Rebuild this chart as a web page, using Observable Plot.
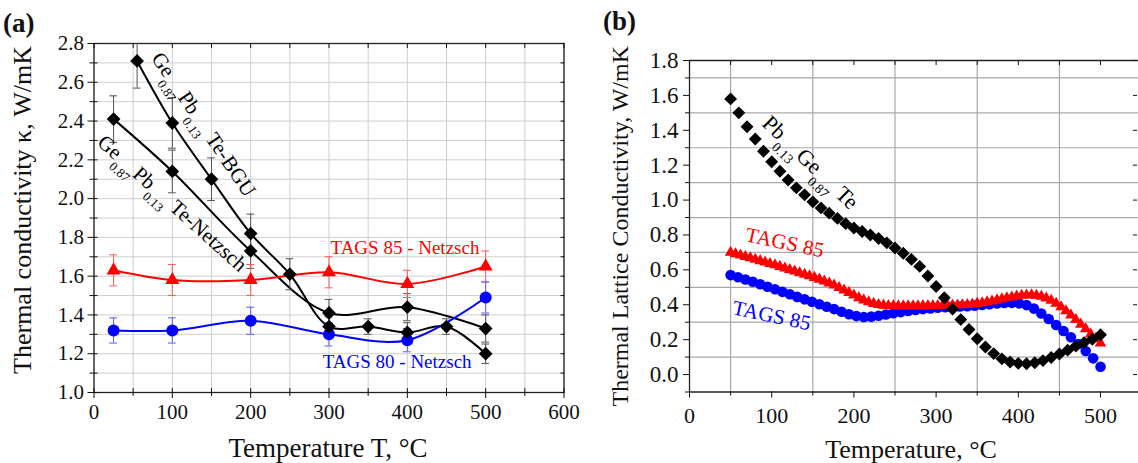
<!DOCTYPE html>
<html><head><meta charset="utf-8">
<script src="https://cdn.jsdelivr.net/npm/d3@7"></script>
<script src="https://cdn.jsdelivr.net/npm/@observablehq/plot@0.6"></script>
<style>
body{margin:0;background:#fff;}
#wrap{position:relative;width:1138px;height:463px;overflow:hidden;font-family:"Liberation Serif","Times New Roman",serif;background:#fff;}
.panel{position:absolute;top:0;}
.panel svg text{font-family:"Liberation Serif","Times New Roman",serif;}
.tag{position:absolute;font-weight:bold;font-size:27px;line-height:1;color:#111;}
</style></head><body>
<div id="wrap">
  <div id="pa" class="panel" style="left:0px"></div>
  <div id="pb" class="panel" style="left:580px"></div>
  <div class="tag" style="left:3px;top:10px">(a)</div>
  <div class="tag" style="left:603px;top:8px">(b)</div>
</div>
<script>
// ---------- Panel (a): thermal conductivity ----------
const tBGU = [55,100,150,200,250,300,350,400,450,500];
const kBGU = [2.71,2.39,2.10,1.82,1.61,1.34,1.34,1.31,1.34,1.20];
const eBGU = [0.14,0.13,0.11,0.10,0.08,0.05,0.04,0.05,0.04,0.05];
const tNetz = [25,100,200,300,400,500];
const kNetz = [2.41,2.14,1.73,1.41,1.44,1.33];
const eNetz = [0.12,0.11,0.09,0.07,0.07,0.07];
const tT85 = [25,100,200,300,400,500];
const kT85 = [1.63,1.58,1.58,1.62,1.56,1.65];
const eT85 = [0.08,0.08,0.08,0.08,0.07,0.08];
const tT80 = [25,100,200,300,400,500];
const kT80 = [1.32,1.32,1.37,1.30,1.27,1.49];
const eT80 = [0.065,0.065,0.07,0.06,0.06,0.08];

const xMajorA = [0,100,200,300,400,500,600];
const xMinorA = [50,150,250,350,450,550];
const yMajorA = [1.0,1.2,1.4,1.6,1.8,2.0,2.2,2.4,2.6,2.8];
const yMinorA = [1.1,1.3,1.5,1.7,1.9,2.1,2.3,2.5,2.7];

const labelsA = [
  {t:140, k:2.382, rot:56, s:"Ge_{0.87}Pb_{0.13} Te-BGU", c:"#000000", size:21},
  {t:100, k:1.975, rot:42, s:"Ge_{0.87}Pb_{0.13} Te-Netzsch", c:"#000000", size:21},
  {t:397, k:1.745, rot:0, s:"TAGS 85 - Netzsch", c:"#ff0000", size:19},
  {t:387, k:1.16, rot:0, s:"TAGS 80 - Netzsch", c:"#0000ff", size:19}
];

// ---------- Panel (b): lattice thermal conductivity ----------
const tPbGe = [50,60,70,80,90,100,110,120,130,140,150,160,170,180,190,200,210,220,230,240,250,260,270,280,290,300,310,320,330,340,350,360,370,380,390,400,410,420,430,440,450,460,470,480,490,500];
const kPbGe = [1.58,1.50,1.42,1.35,1.28,1.22,1.165,1.115,1.07,1.03,0.99,0.955,0.925,0.895,0.865,0.84,0.82,0.80,0.78,0.755,0.725,0.695,0.66,0.62,0.565,0.505,0.44,0.375,0.315,0.258,0.205,0.158,0.12,0.09,0.072,0.064,0.062,0.068,0.08,0.098,0.118,0.14,0.163,0.183,0.202,0.228];
const tRed85 = [50,56,62,68,74,80,86,92,98,104,110,116,122,128,134,140,146,152,158,164,170,176,182,188,194,200,206,212,218,224,230,236,242,248,254,260,266,272,278,284,290,296,302,308,314,320,326,332,338,344,350,356,362,368,374,380,386,392,398,404,410,416,422,428,434,440,446,452,458,464,470,476,482,488,494,500];
const kRed85 = [0.700,0.692,0.684,0.676,0.668,0.660,0.652,0.644,0.636,0.628,
  0.619,0.610,0.601,0.592,0.583,0.574,0.565,0.556,0.546,0.535,
  0.524,0.512,0.498,0.484,0.469,0.455,0.440,0.427,0.416,0.407,
  0.401,0.397,0.395,0.394,0.393,0.393,0.393,0.393,0.393,0.394,
  0.394,0.395,0.395,0.396,0.396,0.397,0.398,0.399,0.401,0.404,
  0.407,0.411,0.416,0.421,0.427,0.433,0.439,0.444,0.449,0.453,
  0.455,0.456,0.454,0.448,0.438,0.425,0.408,0.388,0.365,0.340,
  0.314,0.288,0.262,0.232,0.205,0.180];
const tBlue85 = [50,59,68,77,86,95,104,113,122,131,140,149,158,167,176,185,194,203,212,221,230,239,248,257,266,275,284,293,302,311,320,329,338,347,356,365,374,383,392,401,410,419,428,437,446,455,464,473,482,491,500];
const kBlue85 = [0.570,0.558,0.545,0.532,0.518,0.503,0.489,0.474,0.460,0.445,
  0.431,0.417,0.403,0.389,0.375,0.360,0.346,0.335,0.330,0.332,
  0.337,0.344,0.351,0.358,0.364,0.370,0.375,0.379,0.383,0.386,
  0.388,0.390,0.392,0.395,0.399,0.403,0.407,0.410,0.411,0.408,
  0.398,0.378,0.350,0.318,0.284,0.250,0.214,0.175,0.135,0.093,
  0.045];

const xMajorB = [0,100,200,300,400,500];
const xMinorB = [50,150,250,350,450];
const yMajorB = [0.0,0.2,0.4,0.6,0.8,1.0,1.2,1.4,1.6,1.8];
const yMinorB = [-0.1,0.1,0.3,0.5,0.7,0.9,1.1,1.3,1.5,1.7];

const labelsB = [
  {t:147, k:1.215, rot:44, s:"Pb_{0.13}Ge_{0.87} Te", c:"#000000", size:22},
  {t:116, k:0.756, rot:12, s:"TAGS 85", c:"#ff0000", size:21},
  {t:100, k:0.338, rot:12, s:"TAGS 85", c:"#0000ff", size:21}
];

const FONT = '"Liberation Serif","Times New Roman",serif';
const rows = (t, k, e) => t.map((x, i) => ({t: x, k: k[i], e: e ? e[i] : 0}));
const fmt1 = d3.format(".1f");
const blank = () => "";

function labelMarks(list) {
  return list.map(l => Plot.text([l], {x: "t", y: "k", text: "s", rotate: l.rot,
    fill: l.c, fontSize: l.size, fontFamily: FONT, textAnchor: "middle", lineAnchor: "middle"}));
}
function richify(svg) {
  d3.select(svg).selectAll("text").each(function() {
    const s = this.textContent;
    if (!s || s.indexOf("_{") < 0) return;
    let fs = parseFloat(this.getAttribute("font-size"));
    if (!fs) fs = parseFloat(this.parentNode.getAttribute("font-size"));
    if (!fs) fs = parseFloat(getComputedStyle(this).fontSize) || 20;
    const t = d3.select(this); t.text(null);
    const re = /_\{([^}]*)\}/g; let last = 0, m, shifted = false;
    const off = fs * 0.45;
    while ((m = re.exec(s))) {
      if (m.index > last) {
        const sp = t.append("tspan").text(s.slice(last, m.index));
        if (shifted) { sp.attr("dy", -off); shifted = false; }
      }
      t.append("tspan").attr("font-size", (fs * 0.62).toFixed(1)).attr("dy", shifted ? 0 : off).text(m[1]);
      shifted = true;
      last = re.lastIndex;
    }
    if (last < s.length) {
      const sp = t.append("tspan").text(s.slice(last));
      if (shifted) sp.attr("dy", -off);
    }
  });
}

// ---- build panel (a)
const seriesA = [
  {d: rows(tBGU, kBGU, eBGU), color: "#000000", err: "#555555", symbol: "diamond2", r: 6.2},
  {d: rows(tNetz, kNetz, eNetz), color: "#000000", err: "#555555", symbol: "diamond2", r: 6.2},
  {d: rows(tT85, kT85, eT85), color: "#ff0000", err: "#ff5a5a", symbol: "triangle", r: 5.2},
  {d: rows(tT80, kT80, eT80), color: "#0000ff", err: "#5a5aff", symbol: "circle", r: 6}
];
const capA = 5;
const marksA = [
  Plot.gridX([...xMajorA, ...xMinorA], {stroke: "#cfcfcf", strokeOpacity: 1, strokeWidth: 1}),
  Plot.gridY([...yMajorA, ...yMinorA], {stroke: "#cfcfcf", strokeOpacity: 1, strokeWidth: 1}),
  Plot.frame({stroke: "#222", strokeWidth: 1.3}),
  Plot.axisX(xMajorA, {anchor: "bottom", tickSize: 6, tickPadding: 6, tickFormat: d => String(d), fontSize: 21, fontFamily: FONT, label: null}),
  Plot.axisX(xMinorA, {anchor: "bottom", tickSize: 4, tickFormat: blank, label: null}),
  Plot.axisX([...xMajorA, ...xMinorA], {anchor: "bottom", tickSize: -4, tickFormat: blank, label: null}),
  Plot.axisX([...xMajorA, ...xMinorA], {anchor: "top", tickSize: -4, tickFormat: blank, label: null}),
  Plot.axisY(yMajorA, {anchor: "left", tickSize: 6, tickPadding: 4, tickFormat: fmt1, fontSize: 21, fontFamily: FONT, label: null}),
  Plot.axisY(yMinorA, {anchor: "left", tickSize: 4, tickFormat: blank, label: null}),
  Plot.axisY([...yMajorA, ...yMinorA], {anchor: "left", tickSize: -4, tickFormat: blank, label: null}),
  Plot.axisY([...yMajorA, ...yMinorA], {anchor: "right", tickSize: -4, tickFormat: blank, label: null}),
];
for (const s of seriesA) {
  marksA.push(Plot.line(s.d, {x: "t", y: "k", stroke: s.color, strokeWidth: 2, curve: "catmull-rom"}));
}
for (const s of seriesA) {
  marksA.push(Plot.ruleX(s.d, {x: "t", y1: d => d.k - d.e, y2: d => d.k + d.e, stroke: s.err, strokeWidth: 1, clip: true}));
  marksA.push(Plot.ruleY(s.d, {y: d => d.k - d.e, x1: d => d.t - capA, x2: d => d.t + capA, stroke: s.err, strokeWidth: 1, clip: true}));
  marksA.push(Plot.ruleY(s.d, {y: d => d.k + d.e, x1: d => d.t - capA, x2: d => d.t + capA, stroke: s.err, strokeWidth: 1, clip: true}));
}
for (const s of [seriesA[2], seriesA[3], seriesA[0], seriesA[1]]) {
  marksA.push(Plot.dot(s.d, {x: "t", y: "k", symbol: s.symbol, r: s.r, fill: s.color, stroke: "none"}));
}
marksA.push(...labelMarks(labelsA));
marksA.push(Plot.text(["Thermal conductivity κ, W/mK"], {frameAnchor: "left", text: d => d, rotate: -90, dx: -71.5, dy: -8, fontSize: 26, fontFamily: FONT, textAnchor: "middle", lineAnchor: "middle", fill: "#111"}));
marksA.push(Plot.text(["Temperature T, °C"], {frameAnchor: "bottom", text: d => d, dy: 56, dx: -1, fontSize: 27, fontFamily: FONT, textAnchor: "middle", lineAnchor: "middle", fill: "#111"}));

const plotA = Plot.plot({
  width: 575, height: 463,
  marginLeft: 93.5, marginRight: 11.5, marginTop: 43, marginBottom: 71,
  x: {domain: [0, 600], label: null},
  y: {domain: [1.0, 2.8], label: null},
  style: {fontFamily: FONT, fontSize: "20px", color: "#111", background: "transparent", overflow: "visible"},
  marks: marksA
});
richify(plotA);
document.getElementById("pa").appendChild(plotA);

// ---- build panel (b)
const seriesB = [
  {d: rows(tBlue85, kBlue85), color: "#0000ff", symbol: "circle", r: 5.3},
  {d: rows(tRed85, kRed85), color: "#ff0000", symbol: "triangle", r: 4.3},
  {d: rows(tPbGe, kPbGe), color: "#000000", symbol: "diamond2", r: 5.8}
];
const marksB = [
  Plot.gridX(xMinorB, {stroke: "#a8a8a8", strokeOpacity: 1, strokeWidth: 1.2}),
  Plot.gridY(yMinorB.filter(v => v > 0), {stroke: "#a8a8a8", strokeOpacity: 1, strokeWidth: 1.2}),
  Plot.ruleX([0], {stroke: "#222", strokeWidth: 1.3}),
  Plot.ruleY([-0.1, 1.8], {stroke: "#222", strokeWidth: 1.3}),
  Plot.axisX(xMajorB, {anchor: "bottom", tickSize: 6, tickPadding: 9, tickFormat: d => String(d), fontSize: 22, fontFamily: FONT, label: null}),
  Plot.axisX(xMinorB, {anchor: "bottom", tickSize: 4, tickFormat: blank, label: null}),
  Plot.axisX([...xMajorB, ...xMinorB], {anchor: "top", tickSize: -4, tickFormat: blank, label: null}),
  Plot.axisY(yMajorB, {anchor: "left", tickSize: 6, tickPadding: 5, tickFormat: fmt1, fontSize: 23, fontFamily: FONT, label: null}),
  Plot.axisY(yMinorB, {anchor: "left", tickSize: 4, tickFormat: blank, label: null}),
  Plot.axisY(yMajorB, {anchor: "right", tickSize: -4, dx: -2, tickFormat: blank, label: null}),
];
for (const s of seriesB) {
  marksB.push(Plot.dot(s.d, {x: "t", y: "k", symbol: s.symbol, r: s.r, fill: s.color, stroke: "none"}));
}
marksB.push(...labelMarks(labelsB));
marksB.push(Plot.text(["Thermal Lattice Conductivity, W/mK"], {frameAnchor: "left", text: d => d, rotate: -90, dx: -69, dy: 0, fontSize: 24, fontFamily: FONT, textAnchor: "middle", lineAnchor: "middle", fill: "#111"}));
marksB.push(Plot.text(["Temperature, °C"], {frameAnchor: "bottom", text: d => d, dy: 58, dx: -3, fontSize: 26, fontFamily: FONT, textAnchor: "middle", lineAnchor: "middle", fill: "#111"}));

const plotB = Plot.plot({
  width: 558, height: 463,
  marginLeft: 109, marginRight: 0, marginTop: 60, marginBottom: 71.5,
  x: {domain: [0, 546.2], label: null},
  y: {domain: [-0.1, 1.8], label: null},
  style: {fontFamily: FONT, fontSize: "22px", color: "#111", background: "transparent", overflow: "visible"},
  marks: marksB
});
richify(plotB);
document.getElementById("pb").appendChild(plotB);
</script>
</body></html>
